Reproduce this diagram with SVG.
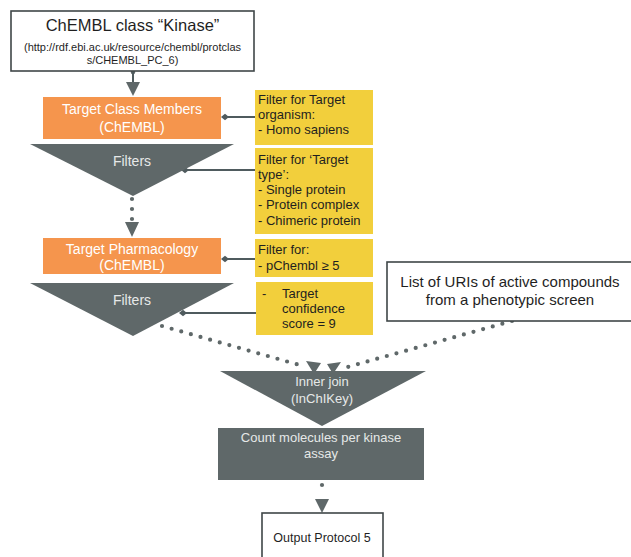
<svg xmlns="http://www.w3.org/2000/svg" width="631" height="557" viewBox="0 0 631 557">
<style>
text{font-family:"Liberation Sans",Arial,sans-serif;}
.box{fill:#ffffff;stroke:#3f4648;stroke-width:1.6;}
.org{fill:#f5954d;}
.yel{fill:#f2cf3c;}
.gry{fill:#5f6869;}
.wt{fill:#ffffff;font-size:14px;text-anchor:middle;}
.lt{fill:#e6e8e8;text-anchor:middle;}
.yt{fill:#1f1f1f;font-size:13px;}
.bt{fill:#1f1f1f;text-anchor:middle;}
.ln{stroke:#4f5b5e;stroke-width:2;fill:none;}
.dot{stroke:#5f6869;stroke-width:4.2;fill:none;stroke-linecap:round;stroke-dasharray:0 10;}
</style>
<defs>
<marker id="dia" viewBox="0 0 10 10" refX="5" refY="5" markerWidth="4" markerHeight="4" orient="auto" markerUnits="strokeWidth">
<path d="M0,5 L5,1 L10,5 L5,9 z" fill="#4f5b5e"/>
</marker>
</defs>

<g id="connectors">
<circle cx="133" cy="72" r="2.3" fill="#5f6869"/>
<line class="ln" x1="133" y1="72" x2="133" y2="83"/>
<path d="M126,82 L140,82 L133,96 z" fill="#5f6869"/>
<line class="dot" x1="132" y1="199" x2="132" y2="222"/>
<path d="M125,222 L139,222 L132,237 z" fill="#5f6869"/>
<line class="ln" x1="255" y1="117" x2="225" y2="117" marker-end="url(#dia)"/>
<line class="ln" x1="255" y1="170" x2="185" y2="170" marker-end="url(#dia)"/>
<line class="ln" x1="255" y1="259" x2="225" y2="259" marker-end="url(#dia)"/>
<line class="ln" x1="256" y1="313" x2="183" y2="313" marker-end="url(#dia)"/>
<line class="dot" x1="162" y1="326" x2="303" y2="366"/>
<path d="M306,361 L321,363 L314,374 z" fill="#5f6869"/>
<line class="dot" x1="512" y1="321" x2="344" y2="368"/>
<path d="M341,362 L327,364 L333,374 z" fill="#5f6869"/>
<line class="dot" x1="322" y1="485" x2="322" y2="495"/>
<path d="M315,499 L329,499 L322,513 z" fill="#5f6869"/>
</g>

<g id="n-kinase">
<rect class="box" x="11" y="11" width="243" height="60"/>
<text class="bt" x="132.5" y="31" font-size="16.5">ChEMBL class “Kinase”</text>
<text class="bt" x="132.5" y="51" font-size="11">(http://rdf.ebi.ac.uk/resource/chembl/protclas</text>
<text class="bt" x="132.5" y="64" font-size="11">s/CHEMBL_PC_6)</text>
</g>

<g id="n-tcm">
<rect class="org" x="43" y="97" width="178" height="42"/>
<text class="wt" x="132" y="114">Target Class Members</text>
<text class="wt" x="132" y="132">(ChEMBL)</text>
</g>

<g id="n-f1">
<rect class="yel" x="255" y="90" width="118" height="55"/>
<text class="yt" x="258" y="104">Filter for Target</text>
<text class="yt" x="258" y="119">organism:</text>
<text class="yt" x="258" y="134">- Homo sapiens</text>
</g>

<g id="n-filters1">
<path class="gry" d="M30,144 L234,144 L133,196 z"/>
<text class="lt" x="132" y="166" font-size="14">Filters</text>
</g>

<g id="n-f2">
<rect class="yel" x="255" y="148" width="118" height="86"/>
<text class="yt" x="258" y="164">Filter for ‘Target</text>
<text class="yt" x="258" y="179">type’:</text>
<text class="yt" x="258" y="194">- Single protein</text>
<text class="yt" x="258" y="209">- Protein complex</text>
<text class="yt" x="258" y="225">- Chimeric protein</text>
</g>

<g id="n-tp">
<rect class="org" x="43" y="238" width="178" height="36"/>
<text class="wt" x="132" y="254">Target Pharmacology</text>
<text class="wt" x="132" y="270">(ChEMBL)</text>
</g>

<g id="n-f3">
<rect class="yel" x="255" y="239" width="118" height="38"/>
<text class="yt" x="258" y="254">Filter for:</text>
<text class="yt" x="258" y="270">- pChembl ≥ 5</text>
</g>

<g id="n-filters2">
<path class="gry" d="M30,283 L234,283 L133,336 z"/>
<text class="lt" x="132" y="305" font-size="14">Filters</text>
</g>

<g id="n-f4">
<rect class="yel" x="256" y="282" width="117" height="53"/>
<text class="yt" x="262" y="298">-</text>
<text class="yt" x="282" y="298">Target</text>
<text class="yt" x="282" y="313">confidence</text>
<text class="yt" x="282" y="328">score = 9</text>
</g>

<g id="n-list">
<rect class="box" x="387" y="262" width="250" height="59"/>
<text class="bt" x="510" y="287" font-size="15">List of URIs of active compounds</text>
<text class="bt" x="510" y="305" font-size="15">from a phenotypic screen</text>
</g>

<g id="n-join">
<path class="gry" d="M220,371 L426,371 L322,426 z"/>
<text class="lt" x="322" y="386" font-size="13">Inner join</text>
<text class="lt" x="322" y="403" font-size="13">(InChIKey)</text>
</g>

<g id="n-count">
<rect class="gry" x="218" y="428" width="206" height="52"/>
<text class="lt" x="321" y="442" font-size="13">Count molecules per kinase</text>
<text class="lt" x="321" y="458" font-size="13">assay</text>
</g>

<g id="n-output">
<rect class="box" x="262" y="513" width="121" height="50"/>
<text class="bt" x="322" y="542" font-size="12.5">Output Protocol 5</text>
</g>
</svg>
